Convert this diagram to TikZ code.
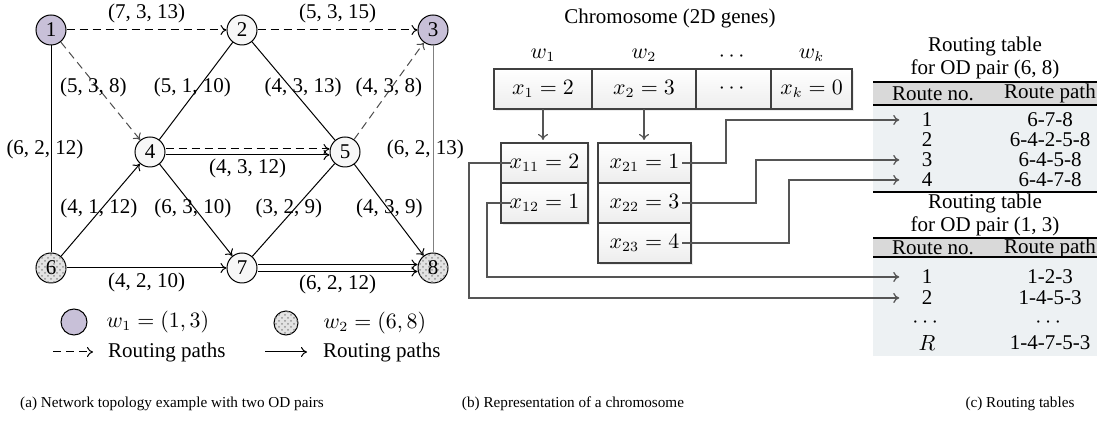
\documentclass[tikz,border=0pt]{standalone}
\usepackage{amsmath}
\usepackage{fontspec}
\setmainfont{Liberation Serif}
\usetikzlibrary{arrows.meta,positioning,patterns,shadows}

\definecolor{odpurple}{RGB}{200,192,216}
\definecolor{tablebg}{RGB}{237,241,243}
\definecolor{bandgray}{RGB}{217,217,217}
\definecolor{wiregray}{RGB}{85,85,85}

\tikzset{
  gnode/.style={circle, draw, line width=0.5pt, minimum size=15pt, inner sep=0pt, fill=gray!6},
  odone/.style={gnode, fill=odpurple},
  odtwo/.style={gnode, fill=gray!22, postaction={pattern=crosshatch dots, pattern color=gray!85}},
  rdash/.style={dash pattern=on 4pt off 2.5pt},
  cell/.style={draw=black!75, line width=0.6pt, outer sep=0pt, inner sep=0pt, minimum height=20pt,
    top color=white, bottom color=gray!14,
    drop shadow={opacity=0.15, shadow xshift=0.8pt, shadow yshift=-0.8pt}},
  wire/.style={draw=wiregray, line width=0.6pt},
  rowtxt/.style={inner sep=0pt},
  caption/.style={font=\fontsize{7.6}{9}\selectfont}
}

\begin{document}
\begin{tikzpicture}[x=0.5pt, y=-0.5pt, line width=0.5pt, >={To[length=3pt,width=5pt]},
    font=\fontsize{10.5}{11.5}\selectfont]
        \useasboundingbox (0,0) rectangle (1097,426);

        \node[odone] (n1) at (51,30)  {1};
        \node[gnode] (n2) at (242,30) {2};
        \node[odone] (n3) at (433,30) {3};
        \node[gnode] (n4) at (150,152) {4};
        \node[gnode] (n5) at (345,152) {5};
        \node[odtwo] (n6) at (51,268) {6};
        \node[gnode] (n7) at (242,268) {7};
        \node[odtwo] (n8) at (433,268) {8};

        \path[->, rdash]
            (n1) edge node[above] {(7, 3, 13)} (n2)
            (n2) edge node[above] {(5, 3, 15)} (n3)
            (n1) edge [draw=black!70] node[pos=0.46, xshift=-2pt] {(5, 3, 8)} (n4)
            (n5) edge [draw=black!70] node[pos=0.54, xshift=-1.5pt] {(4, 3, 8)} (n3);
        \path[->]
            (n6) edge node[pos=0.517, xshift=-1.5pt] {(4, 1, 12)} (n4)
            (n4) edge node[pos=0.483, xshift=-1pt] {(6, 3, 10)} (n7)
            (n5) edge node[pos=0.483, xshift=0.75pt] {(4, 3, 9)} (n8)
            (n6) edge node[below, yshift=1pt] {(4, 2, 10)} (n7);
        \path
            (n1) edge node[xshift=-3pt] {(6, 2, 12)} (n6)
            (n2) edge node[pos=0.46, xshift=-3.3pt] {(5, 1, 10)} (n4)
            (n2) edge node[pos=0.46, xshift=6.5pt] {(4, 3, 13)} (n5)
            (n7) edge node[pos=0.517, xshift=-3pt] {(3, 2, 9)} (n5)
            (n3) edge [draw=gray] node[xshift=-3.8pt] {(6, 2, 13)} (n8);
        \path[->, rdash, transform canvas={yshift=1.5pt}] (n4) edge (n5);
        \path[->, transform canvas={yshift=-1.5pt}] (n4) edge node[below, yshift=1.5pt] {(4, 3, 12)} (n5);
        \path[->, transform canvas={yshift=1.75pt}] (n7) edge (n8);
        \path[->, transform canvas={yshift=-1.75pt}] (n7) edge node[below, yshift=2pt] {(6, 2, 12)} (n8);

        \node[odone, minimum size=13pt] (lgone) at (74,322) {};
        \node[right=6pt of lgone] (lgonetxt) {$w_1 = (1, 3)$};
        \node[odtwo, minimum size=12pt] (lgtwo) at (286,323) {};
        \node[right=9pt of lgtwo] (lgtwotxt) {$w_2 = (6, 8)$};
        \coordinate (lgdash) at (53,352);
        \draw[->, rdash] (lgdash) -- ++(40,0) node[right=4pt] {Routing paths};
        \coordinate (lgsolid) at (265,352);
        \draw[->] (lgsolid) -- ++(42,0) node[right=4.5pt] {Routing paths};

        \node (chrom) at (670,18) {Chromosome (2D genes)};
        \node[cell, minimum width=49pt] (g1) at (543,89) {$x_1 = 2$};
        \node[cell, minimum width=52pt, right=0pt of g1] (g2) {$x_2 = 3$};
        \node[cell, minimum width=37.5pt, right=0pt of g2] (g3) {$\cdots$};
        \node[cell, minimum width=40.5pt, right=0pt of g3] (g4) {$x_k = 0$};
        \node[above=0pt of g1] (w1) {$w_1$};
        \node[above=0pt of g2] (w2) {$w_2$};
        \node[above=0pt of g3] (w3) {$\cdots$};
        \node[above=0pt of g4] (w4) {$w_k$};

        \node[cell, minimum width=43.5pt] (b11) at (544.5,163) {$x_{11} = 2$};
        \node[cell, minimum width=43.5pt, below=0pt of b11] (b12) {$x_{12} = 1$};
        \node[cell, minimum width=46.5pt] (b21) at (644.5,163) {$x_{21} = 1$};
        \node[cell, minimum width=46.5pt, below=0pt of b21] (b22) {$x_{22} = 3$};
        \node[cell, minimum width=46.5pt, below=0pt of b22] (b23) {$x_{23} = 4$};
        \draw[->, wire, shorten >=1.5pt] (g1.south) -- (g1.south |- b11.north);
        \draw[->, wire, shorten >=1.5pt] (g2.south) -- (g2.south |- b21.north);

        \fill[bandgray] (873,82) rectangle (1097,105);
        \fill[tablebg] (873,105) rectangle (1097,192);
        \draw[line width=1pt] (873,82) -- (1097,82) (873,105) -- (1097,105) (873,192) -- (1097,192);
        \node[align=center] (rt1) at (985,58) {Routing table\\for OD pair (6, 8)};
        \node[rowtxt] (h1a) at (933,93.5) {Route no.};
        \node[rowtxt] (h1b) at (1050,93.5) {Route path};
        \foreach \r/\p [count=\i] in {1/6-7-8, 2/6-4-2-5-8, 3/6-4-5-8, 4/6-4-7-8} {
            \node[rowtxt] (t1n\i) at (927,100+20*\i) {\r};
            \node[rowtxt] (t1p\i) at (1050,100+20*\i) {\p};
        }

        \fill[bandgray] (873,238) rectangle (1097,257);
        \fill[tablebg] (873,257) rectangle (1097,356);
        \draw[line width=1pt] (873,238) -- (1097,238) (873,257) -- (1097,257);
        \node[align=center] (rt2) at (985,215) {Routing table\\for OD pair (1, 3)};
        \node[rowtxt] (h2a) at (933,248) {Route no.};
        \node[rowtxt] (h2b) at (1050,248) {Route path};
        \foreach \r/\p/\yy [count=\i] in {1/1-2-3/277, 2/1-4-5-3/298, $\cdots$/$\cdots$/323, $R$/1-4-7-5-3/343} {
            \node[rowtxt] (t2n\i) at (927,\yy) {\r};
            \node[rowtxt] (t2p\i) at (1050,\yy) {\p};
        }

        \draw[->, wire] ([xshift=-4.5pt]b21.east) -- ++(44,0) |- ([xshift=-11pt]t1n1.west);
        \draw[->, wire] ([xshift=-4.5pt]b22.east) -- ++(74,0) |- ([xshift=-11pt]t1n3.west);
        \draw[->, wire] ([xshift=-4.5pt]b23.east) -- ++(107,0) |- ([xshift=-11pt]t1n4.west);
        \draw[->, wire] ([xshift=5pt]b12.west) -- ++(-24,0) |- ([xshift=-11pt]t2n1.west);
        \draw[->, wire] ([xshift=5pt]b11.west) -- ++(-42,0) |- ([xshift=-11pt]t2n2.west);

        \node[caption] (capa) at (172,404) {(a) Network topology example with two OD pairs};
        \node[caption] (capb) at (573,404) {(b) Representation of a chromosome};
        \node[caption] (capc) at (1020,404) {(c) Routing tables};
    \end{tikzpicture}
\end{document}
